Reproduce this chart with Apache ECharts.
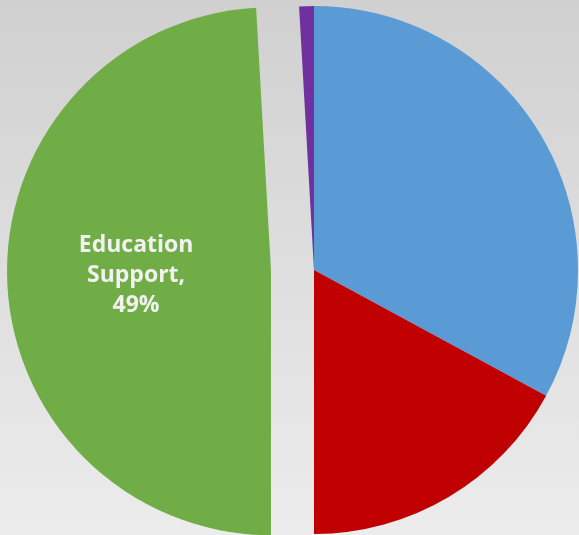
<!DOCTYPE html>
<html>
<head>
<meta charset="utf-8">
<script src="https://cdn.jsdelivr.net/npm/echarts@6/dist/echarts.min.js"></script>
<style>
html,body{margin:0;padding:0;}
#c{width:579px;height:535px;}
</style>
</head>
<body>
<div id="c"></div>
<script>
var categories = ['Scholarships', 'Health Support', 'Education Support', 'Other'];
var values = [32.9, 17.1, 49.1, 0.9];
var colors = ['#5B9BD5', '#C00000', '#70AD47', '#7030A0'];
var shownLabel = 'Education Support';

var chart = echarts.init(document.getElementById('c'), null, {renderer: 'canvas'});
var data = categories.map(function (name, i) {
  var item = {name: name, value: values[i], itemStyle: {color: colors[i]}};
  if (name === shownLabel) {
    item.selected = true;
    item.label = {show: true};
  }
  return item;
});
chart.setOption({
  animation: false,
  backgroundColor: {
    type: 'linear', x: 0, y: 0, x2: 0, y2: 1,
    colorStops: [{offset: 0, color: '#d0d0d0'}, {offset: 1, color: '#ececec'}]
  },
  series: [{
    type: 'pie',
    center: [314, 270],
    radius: [0, 264],
    startAngle: 90,
    clockwise: true,
    selectedMode: 'single',
    selectedOffset: 43,
    avoidLabelOverlap: false,
    emphasis: {disabled: true, scale: false},
    label: {
      show: false,
      position: 'inside',
      formatter: function (p) { return 'Education\nSupport,\n' + Math.round(p.percent) + '%'; },
      color: '#f2f2f2',
      fontFamily: 'Open Sans',
      fontWeight: 'bold',
      fontSize: 23,
      lineHeight: 30,
      offset: [4, -2]
    },
    labelLine: {show: false},
    data: data
  }]
});
</script>
</body>
</html>
